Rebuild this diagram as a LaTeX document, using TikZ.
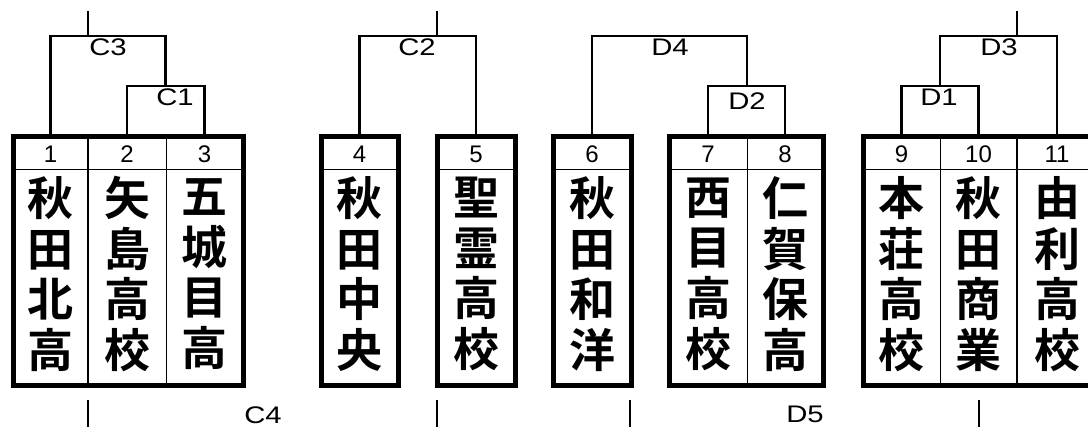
\documentclass[tikz,border=0pt]{standalone}
\usepackage{fontspec}
\setmainfont{Liberation Sans}
\newfontfamily\lblfont{Liberation Sans}[FakeStretch=1.22]
\newfontfamily\cjk{Noto Sans CJK JP}[BoldFont={Noto Sans CJK JP Bold}]
\begin{document}
\begin{tikzpicture}[x=1pt,y=-1pt,
 br/.style={line width=2.8pt},
 boxframe/.style={draw,line width=5pt,inner sep=0pt,outer sep=0pt},
 thinline/.style={line width=1pt},
 midline/.style={line width=2.5pt},
 num/.style={font=\fontsize{24}{24}\selectfont, inner sep=0pt},
 lbl/.style={font=\lblfont\fontsize{24}{24}\selectfont, inner sep=0pt},
 school/.style={font=\cjk\bfseries\fontsize{46}{50.7}\selectfont, align=center, inner sep=0pt},
]
\useasboundingbox (0,0) rectangle (1088,427);

% boxes
\node[boxframe, minimum width=230pt, minimum height=249pt] (boxA) at (128,261.5) {};
\node[boxframe, minimum width=77pt, minimum height=249pt] (boxB) at (359.5,261.5) {};
\node[boxframe, minimum width=77.5pt, minimum height=249pt] (boxC) at (476.25,261.5) {};
\node[boxframe, minimum width=78pt, minimum height=249pt] (boxD) at (592,261.5) {};
\node[boxframe, minimum width=154.5pt, minimum height=249pt] (boxE) at (746.25,261.5) {};
\node[boxframe, minimum width=234pt, minimum height=249pt] (boxF) at (980,261.5) {};

% number row lines
\draw[thinline] (13,170) -- (243,170);
\draw[thinline] (321,170) -- (398,170);
\draw[thinline] (437.5,170) -- (515,170);
\draw[thinline] (553,170) -- (631,170);
\draw[thinline] (669,170) -- (823.5,170);
\draw[thinline] (863,170) -- (1097,170);

% dividers
\draw[midline] (88,137) -- (88,386);
\draw[thinline] (166,137) -- (166,386);
\draw[thinline] (747,137) -- (747,386);
\draw[thinline] (940,137) -- (940,386);
\draw[midline] (1017,137) -- (1017,386);

% numbers
\node[num] (n1) at (50.5,154) {1};
\node[num] (n2) at (127,154) {2};
\node[num] (n3) at (204.5,154) {3};
\node[num] (n4) at (359.5,154) {4};
\node[num] (n5) at (476,154) {5};
\node[num] (n6) at (592,154) {6};
\node[num] (n7) at (708,154) {7};
\node[num] (n8) at (785,154) {8};
\node[num] (n9) at (901.5,154) {9};
\node[num] (n10) at (978.5,154) {10};
\node[num] (n11) at (1057,154) {11};

% school names
\node[school] (s1) at (50.5,274) {秋\\田\\北\\高};
\node[school] (s2) at (127,274) {矢\\島\\高\\校};
\node[school] (s3) at (204.5,274) {五\\城\\目\\高};
\node[school] (s4) at (359.5,274) {秋\\田\\中\\央};
\node[school] (s5) at (476,274) {聖\\霊\\高\\校};
\node[school] (s6) at (592,274) {秋\\田\\和\\洋};
\node[school] (s7) at (708,274) {西\\目\\高\\校};
\node[school] (s8) at (785,274) {仁\\賀\\保\\高};
\node[school] (s9) at (901.5,274) {本\\荘\\高\\校};
\node[school] (s10) at (978.5,274) {秋\\田\\商\\業};
\node[school] (s11) at (1057,274) {由\\利\\高\\校};

% column tops
\coordinate (t1) at (50.5,137);
\coordinate (t2) at (127,137);
\coordinate (t3) at (204.5,137);
\coordinate (t4) at (359.5,137);
\coordinate (t5) at (476,137);
\coordinate (t6) at (592,137);
\coordinate (t7) at (708,137);
\coordinate (t8) at (785,137);
\coordinate (t9) at (901.5,137);
\coordinate (t10) at (978.5,137);
\coordinate (t11) at (1057,137);

% bracket joints
\coordinate (C1m) at (165.75,86);
\coordinate (C3m) at (88,36);
\coordinate (C3s) at (88,11);
\coordinate (C2m) at (437,36);
\coordinate (C2s) at (437,11);
\coordinate (D2m) at (747,86);
\coordinate (D4m) at (670,36);
\coordinate (D1m) at (940,86);
\coordinate (D3m) at (1017,36);
\coordinate (D3s) at (1017,11);

\draw[br] (t2) |- (C1m) -| (t3);
\draw[br] (t1) |- (C3m) -| (C1m);
\draw[br] (C3m) -- (C3s);
\draw[br] (t4) |- (C2m) -| (t5);
\draw[br] (C2m) -- (C2s);
\draw[br] (t7) |- (D2m) -| (t8);
\draw[br] (t6) |- (D4m) -| (D2m);
\draw[br] (t9) |- (D1m) -| (t10);
\draw[br] (D1m) |- (D3m) -| (t11);
\draw[br] (D3m) -- (D3s);

% bottom stems
\coordinate (b1) at (88,400);   \coordinate (b1e) at (88,430);
\coordinate (b2) at (437,400);  \coordinate (b2e) at (437,430);
\coordinate (b3) at (630,400);  \coordinate (b3e) at (630,430);
\coordinate (b4) at (979,400);  \coordinate (b4e) at (979,430);
\draw[br] (b1) -- (b1e);
\draw[br] (b2) -- (b2e);
\draw[br] (b3) -- (b3e);
\draw[br] (b4) -- (b4e);

% labels
\node[lbl] (lC3) at (108,47) {C3};
\node[lbl] (lC1) at (175,97) {C1};
\node[lbl] (lC2) at (417,47) {C2};
\node[lbl] (lD4) at (670,47) {D4};
\node[lbl] (lD2) at (747,101) {D2};
\node[lbl] (lD3) at (999,47) {D3};
\node[lbl] (lD1) at (939,97) {D1};
\node[lbl] (lC4) at (263,415) {C4};
\node[lbl] (lD5) at (805,414) {D5};
\end{tikzpicture}
\end{document}
